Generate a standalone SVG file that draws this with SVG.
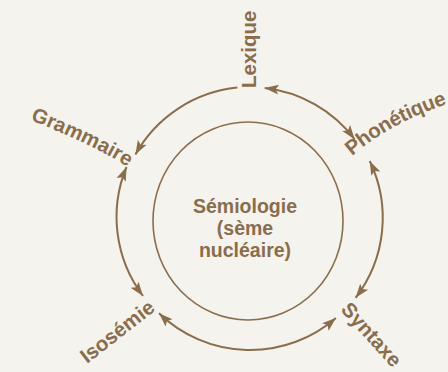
<svg xmlns="http://www.w3.org/2000/svg" width="448" height="372" viewBox="0 0 448 372">
  <style>
    .lbl { font-family: "Liberation Sans", Arial, sans-serif; font-weight: bold; font-size: 20.5px; fill: #8a6d4b; }
    .ctr { font-family: "Liberation Sans", Arial, sans-serif; font-weight: bold; font-size: 19.5px; fill: #8a6d4b; text-anchor: middle; }
    .arc { fill: none; stroke: #8a6d4b; stroke-width: 2; }
    .inner { fill: none; stroke: #8a6d4b; stroke-width: 1.6; }
  </style>
  <defs>
    <marker id="ah" markerUnits="userSpaceOnUse" markerWidth="15" markerHeight="12" refX="14" refY="5" orient="auto-start-reverse" viewBox="0 0 15 10">
      <path d="M0,0 L14,5 L0,10 L3,5 Z" fill="#8a6d4b"/>
    </marker>
    <path id="pGram" d="M30,120 Q95,145 136,172"/>
    <path id="pPhon" d="M352,156 Q399,116 465,99"/>
  </defs>
  <rect width="448" height="372" fill="#f4f3ee"/>

  <g id="connectors">
    <path class="arc" d="M237.4,87.6 A132,132 0 0 0 135.4,154.5" marker-end="url(#ah)"/>
    <path class="arc" d="M264.7,88 A131,131 0 0 1 354.6,139.2" marker-start="url(#ah)" marker-end="url(#ah)"/>
    <path class="arc" d="M369.7,161 A131,131 0 0 1 355.6,297.8" marker-start="url(#ah)" marker-end="url(#ah)"/>
    <path class="arc" d="M335.9,317.9 A131,131 0 0 1 159.0,313.2" marker-start="url(#ah)" marker-end="url(#ah)"/>
    <path class="arc" d="M143,296 A131,131 0 0 1 126.5,167" marker-start="url(#ah)" marker-end="url(#ah)"/>
  </g>

  <g id="semiologie">
    <ellipse class="inner" cx="248" cy="221" rx="95" ry="99"/>
    <text class="ctr" x="245" y="213">Sémiologie</text>
    <text class="ctr" x="245" y="235">(sème</text>
    <text class="ctr" x="245" y="257">nucléaire)</text>
  </g>

  <g id="lexique">
    <text class="lbl" transform="translate(256,88) rotate(-90)">Lexique</text>
  </g>
  <g id="phonetique">
    <text class="lbl" font-size="18.5" letter-spacing="-0.3"><textPath href="#pPhon">Phonétique</textPath></text>
  </g>
  <g id="syntaxe">
    <text class="lbl" transform="translate(340,310) rotate(48)">Syntaxe</text>
  </g>
  <g id="isosemie">
    <text class="lbl" transform="translate(87,364) rotate(-38)">Isosémie</text>
  </g>
  <g id="grammaire">
    <text class="lbl"><textPath href="#pGram">Grammaire</textPath></text>
  </g>
</svg>
